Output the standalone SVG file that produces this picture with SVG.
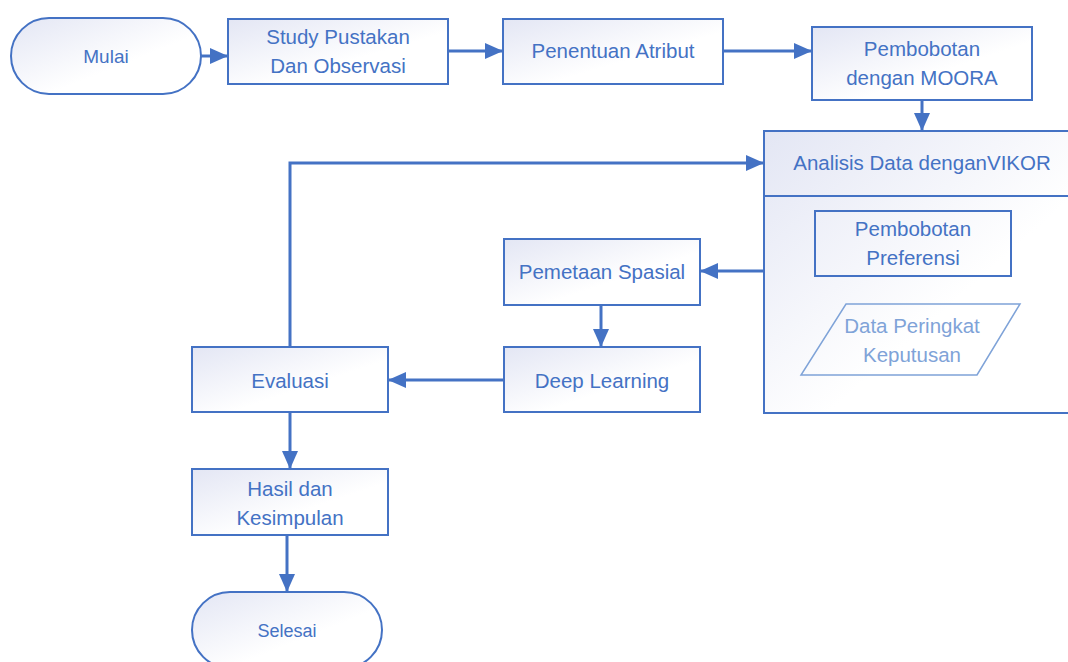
<svg xmlns="http://www.w3.org/2000/svg" width="1068" height="662" viewBox="0 0 1068 662">
<style>
.box{fill:url(#g);stroke:#4472c4;stroke-width:2}
.t{font-family:"Liberation Sans",Arial,sans-serif;font-size:20.5px;fill:#4472c4;text-anchor:middle}
.m{font-size:19px}
.s{font-size:18px}
.lt{fill:#7fa3d8}
.c{fill:none;stroke:#4472c4;stroke-width:3;marker-end:url(#a)}
</style>
<defs>
<linearGradient id="g" x1="0" y1="0" x2="1" y2="1">
<stop offset="0" stop-color="#e3e6f4"/>
<stop offset="0.6" stop-color="#ffffff"/>
</linearGradient>
<marker id="a" markerUnits="userSpaceOnUse" markerWidth="18" markerHeight="16" refX="18" refY="8" orient="auto">
<path d="M0,0 L18,8 L0,16 z" fill="#4472c4"/>
</marker>
</defs>
<g id="connectors">
<path class="c" d="M201,56 L228,56"/>
<path class="c" d="M448,51 L503,51"/>
<path class="c" d="M723,51 L812,51"/>
<path class="c" d="M922,100 L922,131"/>
<path class="c" d="M290,347 L290,163 L764,163"/>
<path class="c" d="M764,271 L700,271"/>
<path class="c" d="M601,305 L601,347"/>
<path class="c" d="M504,380 L388,380"/>
<path class="c" d="M290,412 L290,469"/>
<path class="c" d="M287,535 L287,592"/>
</g>
<g id="mulai">
<rect class="box" x="11" y="18" width="190" height="76" rx="38"/>
<text class="t m" x="106" y="63">Mulai</text>
</g>
<g id="study">
<rect class="box" x="228" y="19" width="220" height="65"/>
<text class="t" x="338" y="44">Study Pustakan</text>
<text class="t" x="338" y="73">Dan Observasi</text>
</g>
<g id="penentuan">
<rect class="box" x="503" y="19" width="220" height="65"/>
<text class="t" x="613" y="58">Penentuan Atribut</text>
</g>
<g id="pembobotan-moora">
<rect class="box" x="812" y="27" width="220" height="73"/>
<text class="t" x="922" y="56">Pembobotan</text>
<text class="t" x="922" y="85">dengan MOORA</text>
</g>
<g id="analisis">
<rect class="box" x="764" y="131" width="320" height="282"/>
<line x1="764" y1="196" x2="1068" y2="196" stroke="#4472c4" stroke-width="2"/>
<text class="t" x="922" y="170">Analisis Data denganVIKOR</text>
</g>
<g id="pembobotan-preferensi">
<rect x="815" y="211" width="196" height="65" fill="none" stroke="#4472c4" stroke-width="2"/>
<text class="t" x="913" y="236">Pembobotan</text>
<text class="t" x="913" y="265">Preferensi</text>
</g>
<g id="data-peringkat">
<polygon points="846,304 1020,304 977,375 801,375" fill="none" stroke="#7fa3d8" stroke-width="1.5"/>
<text class="t lt" x="912" y="333">Data Peringkat</text>
<text class="t lt" x="912" y="362">Keputusan</text>
</g>
<g id="pemetaan">
<rect class="box" x="504" y="239" width="196" height="66"/>
<text class="t" x="602" y="279">Pemetaan Spasial</text>
</g>
<g id="deep">
<rect class="box" x="504" y="347" width="196" height="65"/>
<text class="t" x="602" y="388">Deep Learning</text>
</g>
<g id="evaluasi">
<rect class="box" x="192" y="347" width="196" height="65"/>
<text class="t" x="290" y="388">Evaluasi</text>
</g>
<g id="hasil">
<rect class="box" x="192" y="469" width="196" height="66"/>
<text class="t" x="290" y="496">Hasil dan</text>
<text class="t" x="290" y="525">Kesimpulan</text>
</g>
<g id="selesai">
<rect class="box" x="192" y="592" width="190" height="76" rx="38"/>
<text class="t s" x="287" y="637">Selesai</text>
</g>
</svg>
